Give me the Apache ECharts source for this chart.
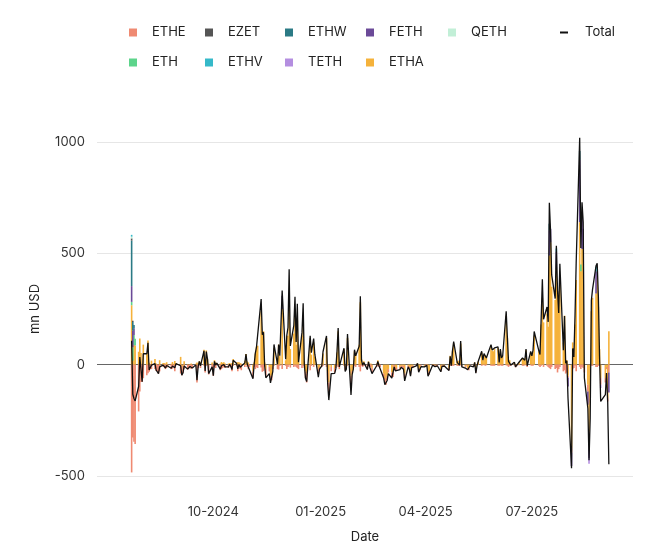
<!DOCTYPE html>
<html>
<head>
<meta charset="utf-8">
<script src="https://cdn.jsdelivr.net/npm/echarts@6/dist/echarts.min.js"></script>
<style>
  html, body { margin: 0; padding: 0; background: #fff; }
  #chart { width: 671px; height: 550px; }
</style>
</head>
<body>
<div id="chart"></div>
<script>
// trading days, 2024-07-23 .. 2025-09-05 (US holidays skipped)
const holidays = ['2024-09-02', '2024-11-28', '2024-12-25', '2025-01-01', '2025-01-09', '2025-01-20',
  '2025-02-17', '2025-04-18', '2025-05-26', '2025-06-19', '2025-07-04', '2025-09-01'];

// daily net flows, mn USD, one block per month
const totalFlow = [
  107, -133, -152, -163, -98, 34, 27,
  -77, 49, 49, 98, -24, -24, -2, 5, -24, -30, -40, -10, -2, -5, -15, -4, -6, -16, -6, -1, -14, 5,
  -5, -47, -37, -6, -20, -16, -8, -15, -15, -1, -70, -9, 15, -5, 62, -28, 59, 26, -40, -10,
  -49, 15, -2, 7, -20, -5, -7, 1, -10, -10, 2, -8, -22, 20, 5, -19, 1, -12, -20, 8, 48, 4, -10,
  -10, -63, 0, 52, 79, 85, 295, 135, 146, -4, -59, -40, -82, -80, -30, 91, 2, 90, 40, 333,
  24, 132, 167, 428, 84, 176, 305, 102, 273, 11, 145, 276, 2, -61, -76, 130, 54, 117, 47, -56, -20,
  -5, 58, 129, -86, -159, -40, -39, -19, 60, 165, -10, 74, -30, -20, 138, -136, -45, -20, 67, 40,
  83, 307, 20, -3, 10, -22, 13, -10, -3, -40, -5, 15, -5, -10, -60, -90, -94, -71, -40,
  -60, -63, -10, -28, -30, -22, -12, -10, -20, -73, -10, -20, -52, -13, -15, -5, 6, -34, -30, -9, -10,
  -4, -3, -52, -49, -2, -3, -9, -10, -5, -32, -8, -12, -6, -26, 38, -5, 64, 104, 10, 15, -2,
  106, -10, -15, -10, -23, -30, -5, -10, 10, -38, -5, 14, 60, 20, 50, 43, 30, 90, 66, 60, 75,
  80, 10, 70, 30, 40, 240, 125, 15, 20, -2, 11, -10, -5, 11, 30, 25, 20, 70, -5, 60,
  40, 64, 149, 62, 46, 211, 383, 204, 259, 192, 727, 602, 403, 297, 534, 333, 232, 453, 65, 219, 6, 17,
  -152, -465, 73, 35, 222, 461, 1019, 524, 729, 640, -59, -197, -429, -240, 288, 338, 444, 455, 308, 39, -165,
  -135, -38, -167, -447
];

const etheFlow = [
  -484, -327, -346, -356, -210, -120, -78,
  -78, -61, -47, -39, -32, -20, -20, -20, -29, -31, -40, -30, -9, -12, -20, -15, -5, -20, -18, -5, -30, -3,
  -40, -41, -20, -21, -22, -15, -10, -20, -14, -5, -80, -15, 0, -15, -5, -35, -5, 0, -44, -20,
  -50, -10, -15, 0, -25, -20, -15, -10, -15, -15, -5, -12, -30, -5, -5, -30, -10, -20, -25, -10, 0, -10, -20,
  -10, -30, -10, -20, -12, -15, -13, -32, -28, -10, -30, -20, -10, -20, -10, -5, -20, -22, -5, -20,
  -5, -20, -10, -3, -13, -10, -5, -10, -15, -20, -15, -5, -15, -30, -40, -25, -5, -10, 0, -20, -10,
  -10, -5, -10, -40, -50, -20, -20, -15, -5, -10, -20, -5, -15, -10, -5, -60, -10, -5, -5, -10,
  -10, -30, -5, -10, -5, -20, -5, -10, -10, -20, -10, -5, -10, -10, -15, -20, -20, -20, -15,
  -20, -20, -10, -15, -10, -10, -5, -5, -10, -20, -5, -5, -15, -5, -10, -5, 0, -10, -10, -5, -5,
  -5, -5, -10, -15, -5, -5, -5, -5, -5, -10, -5, -5, -3, -10, -5, -5, -5, -5, -5, -5, -5,
  -3, -5, -5, -5, -5, -10, -3, -5, -2, -10, -3, -2, -5, -3, -2, -5, -3, -5, -5, -5, -5,
  -5, -5, -3, -5, -5, -3, -5, -10, -5, -5, -3, -10, -5, -3, -5, -5, -3, -3, -10, -3,
  -5, -5, 0, -5, -10, -5, 0, -10, -5, -10, -15, -20, -10, -20, -15, -35, -20, -10, -30, -25, -40, -35,
  -8, -20, -20, -15, -5, -30, -10, -20, -10, -15, -20, -30, -40, -20, -5, -5, -10, -10, -5, -5, -30,
  -20, -10, -15, -35
];

const ethaFlow = [
  267, 18, 88, 86, 58, 118, 52,
  0, 90, 47, 109, 9, 0, 18, 25, 5, 1, 0, 20, 7, 7, 5, 11, -1, 4, 12, 4, 16, 8,
  35, -6, -17, 15, 2, -1, 2, 5, -1, 4, 10, 6, 15, 10, 67, 7, 64, 26, 4, 10,
  1, 20, 10, 7, 5, 12, 8, 11, 5, 5, 7, 4, 8, 25, 10, 11, 11, 8, 5, 18, 48, 14, 10,
  0, -30, 10, 50, 80, 85, 240, 140, 150, 10, -20, -10, -50, -50, -10, 75, 20, 90, 40, 250,
  20, 130, 130, 290, 70, 140, 250, 90, 200, 30, 130, 220, 15, -30, -40, 120, 45, 100, 35, -20, -10,
  5, 50, 120, -30, -80, -10, -15, 0, 55, 150, 5, 70, -10, -5, 120, -50, -30, -10, 60, 45,
  90, 280, 25, 5, 15, 0, 15, 0, 5, -15, 5, 20, 5, 0, -40, -60, -70, -50, -20,
  -35, -35, 0, -10, -15, -10, -5, -5, -5, -40, -5, -10, -30, -5, -5, 0, 5, -20, -15, 0, -5,
  0, 2, -35, -30, 3, 2, -3, -5, 0, -20, -3, -5, -3, -15, 40, 0, 60, 95, 15, 18, 3,
  95, -3, -8, -3, -15, -15, 0, -3, 10, -25, 0, 14, 55, 20, 45, 42, 30, 85, 62, 60, 70,
  75, 12, 65, 30, 40, 220, 120, 20, 20, 0, 12, -2, -2, 12, 30, 28, 20, 65, 5, 55,
  40, 55, 130, 60, 50, 180, 300, 190, 230, 170, 490, 550, 350, 290, 430, 330, 240, 400, 100, 220, 10, 20,
  -50, -375, 100, 40, 180, 380, 640, 420, 520, 520, -15, -90, -300, -150, 240, 300, 320, 400, 260, 70, -60,
  -60, -10, -150, 150
];

// smaller funds, only the days where they show
const fethFlow = [['2024-07-23', 71], ['2024-07-24', 74], ['2024-07-25', 30], ['2024-11-29', 60],
  ['2025-07-16', 113], ['2025-07-17', 60], ['2025-07-22', 77], ['2025-08-01', -40], ['2025-08-04', -60],
  ['2025-08-11', 280], ['2025-08-13', 140], ['2025-08-14', 90], ['2025-08-18', -60], ['2025-08-19', -80],
  ['2025-08-25', 100], ['2025-09-05', -90]];
const ethwFlow = [['2024-07-23', 204], ['2024-07-24', 40], ['2024-07-25', 15], ['2025-07-16', 30], ['2025-08-11', 40]];
const ethFlow = [['2024-07-23', 15], ['2024-07-24', 60], ['2024-07-25', 45], ['2024-07-26', 30],
  ['2025-08-12', 30], ['2025-08-26', 25]];
const ezetFlow = [['2024-07-23', 10], ['2024-07-24', 5]];
const qethFlow = [['2024-07-23', 8], ['2025-08-13', 20]];
const ethvFlow = [['2024-07-23', 8], ['2025-07-22', 15], ['2025-08-25', 20]];
const tethFlow = [['2025-08-19', -25], ['2025-08-29', -15]];

const xLabelMonths = [1, 4, 7, 10];
const firstXLabel = '2024-10-01';
const yTicks = [-500, 0, 500, 1000];

const ts = s => Date.UTC(+s.slice(0, 4), +s.slice(5, 7) - 1, +s.slice(8, 10));
function tradingDays(from, to) {
  const out = [];
  const d = new Date(from + 'T00:00:00Z');
  const end = new Date(to + 'T00:00:00Z');
  while (d <= end) {
    const s = d.toISOString().slice(0, 10);
    const wd = d.getUTCDay();
    if (wd !== 0 && wd !== 6 && holidays.indexOf(s) < 0) out.push(s);
    d.setUTCDate(d.getUTCDate() + 1);
  }
  return out;
}
const days = tradingDays('2024-07-23', '2025-09-05');
const pair = arr => days.map((d, i) => [d, arr[i] === undefined ? 0 : arr[i]]);
// spread a sparse list over all trading days so stacking lines up by date
const spread = list => {
  const m = {};
  list.forEach(p => { m[p[0]] = p[1]; });
  return days.map(d => [d, m[d] || 0]);
};

const colors = {
  ETHE: '#ef8a72', EZET: '#555555', ETHW: '#2b7a85', FETH: '#6b4a98', QETH: '#c2efd7',
  ETH: '#5dd48b', ETHV: '#35b9c9', TETH: '#b48ee0', ETHA: '#f5b23b'
};
const barData = {
  ETHE: pair(etheFlow), EZET: spread(ezetFlow), ETHW: spread(ethwFlow), FETH: spread(fethFlow),
  QETH: spread(qethFlow), ETH: spread(ethFlow), ETHV: spread(ethvFlow), TETH: spread(tethFlow),
  ETHA: pair(ethaFlow)
};
const order = ['ETHA', 'ETHE', 'ETH', 'FETH', 'ETHW', 'EZET', 'QETH', 'ETHV', 'TETH'];

const series = order.map(name => ({
  name: name,
  type: 'bar',
  stack: 'flows',
  barWidth: 1.6,
  clip: false,
  itemStyle: { color: colors[name] },
  data: barData[name]
}));
series.push({
  name: 'Total',
  type: 'line',
  showSymbol: false,
  clip: false,
  z: 10,
  lineStyle: { color: '#111', width: 1.3 },
  itemStyle: { color: '#111' },
  data: pair(totalFlow),
  markLine: {
    silent: true, symbol: 'none', label: { show: false }, z: 1,
    lineStyle: { color: '#666', width: 1, type: 'solid' },
    data: [{ yAxis: 0 }]
  }
});

const legendPos = [
  ['ETHE', 124, 21], ['EZET', 200, 21], ['ETHW', 280, 21], ['FETH', 361, 21], ['QETH', 443, 21],
  ['ETH', 124, 51], ['ETHV', 200, 51], ['TETH', 280, 51], ['ETHA', 361, 51]
];
const font = 'Inter, "Liberation Sans", sans-serif';
const legends = legendPos.map(p => ({
  data: [p[0]], left: p[1], top: p[2], icon: 'rect', itemWidth: 8, itemHeight: 8,
  textStyle: { fontFamily: font, fontSize: 13, color: '#222', padding: [0, 0, 0, 10] }
}));
legends.push({
  data: ['Total'], left: 555, top: 21, icon: 'rect', itemWidth: 8, itemHeight: 2,
  itemStyle: { color: '#111' },
  textStyle: { fontFamily: font, fontSize: 13, color: '#222', padding: [0, 0, 0, 12] }
});

const chart = echarts.init(document.getElementById('chart'));
chart.setOption({
  animation: false,
  legend: legends,
  grid: { left: 97, right: 38, top: 142, bottom: 74 },
  xAxis: {
    type: 'time',
    min: ts('2024-06-24'),
    max: ts('2025-09-25'),
    minInterval: 28 * 86400000,
    maxInterval: 31 * 86400000,
    name: 'Date',
    nameLocation: 'middle',
    nameGap: 55,
    nameTextStyle: { fontFamily: font, fontSize: 13, color: '#222' },
    axisLine: { show: false, onZero: false },
    axisTick: { show: false },
    splitLine: { show: false },
    axisLabel: {
      fontFamily: font, fontSize: 13, color: '#333', margin: 30,
      hideOverlap: false, showMinLabel: false, showMaxLabel: false,
      formatter: v => {
        const d = new Date(v);
        const m = d.getUTCMonth() + 1;
        if (v < ts(firstXLabel) || d.getUTCDate() !== 1 || xLabelMonths.indexOf(m) < 0) return '';
        return String(m).padStart(2, '0') + '-' + d.getUTCFullYear();
      }
    }
  },
  yAxis: {
    type: 'value',
    min: yTicks[0],
    max: yTicks[yTicks.length - 1],
    interval: 500,
    name: 'mn USD',
    nameLocation: 'middle',
    nameGap: 55,
    nameTextStyle: { fontFamily: font, fontSize: 13, color: '#222' },
    axisLine: { show: false },
    axisTick: { show: false },
    axisLabel: { fontFamily: font, fontSize: 13, color: '#333', margin: 12, formatter: v => String(v) },
    splitLine: { lineStyle: { color: '#e6e6e6' } }
  },
  series: series
});
</script>
</body>
</html>
